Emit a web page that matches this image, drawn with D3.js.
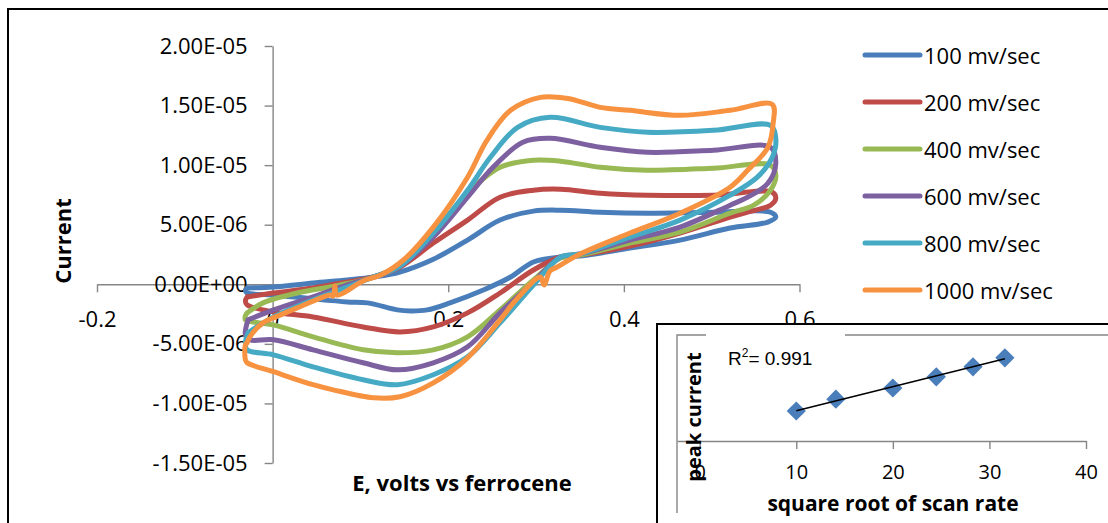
<!DOCTYPE html>
<html>
<head>
<meta charset="utf-8">
<script src="https://cdn.jsdelivr.net/npm/d3@7"></script>
<style>
  body { margin: 0; background: #fff; }
  svg { display: block; }
  text { font-family: "Open Sans", "Noto Sans", sans-serif; fill: #000; }
</style>
</head>
<body>
<svg id="chart" width="1108" height="523"></svg>
<script>
// ---- cyclic voltammograms: potential (V vs Fc) and current (µA) along each scan loop ----
const scanLabels = ["100 mv/sec", "200 mv/sec", "400 mv/sec", "600 mv/sec", "800 mv/sec", "1000 mv/sec"];
const seriesColors = ["#4A7EBB", "#BE4B48", "#98B954", "#7D60A0", "#46AAC5", "#F69240"];

const potential100 = [-0.029, 0.001, 0.046, 0.085, 0.115, 0.145, 0.183, 0.222, 0.259, 0.297, 0.328, 0.373, 0.427, 0.502, 0.567, 0.573, 0.564, 0.521, 0.464, 0.407, 0.350, 0.328, 0.297, 0.271, 0.240, 0.202, 0.176, 0.157, 0.142, 0.108, 0.085, 0.046, 0.001, -0.029, -0.031, -0.029];
const current100 = [-0.31, -0.23, 0.11, 0.36, 0.61, 1.03, 2.1, 3.71, 5.39, 6.14, 6.22, 6.05, 5.97, 6.05, 6.05, 5.64, 5.22, 4.72, 3.71, 3.04, 2.37, 2.29, 1.87, 0.61, -0.48, -1.56, -2.15, -2.24, -2.15, -1.56, -1.48, -1.23, -0.90, -0.73, -0.50, -0.31];

const potential200 = [-0.029, 0.001, 0.046, 0.085, 0.115, 0.145, 0.183, 0.222, 0.259, 0.297, 0.328, 0.373, 0.427, 0.502, 0.569, 0.573, 0.567, 0.541, 0.521, 0.464, 0.407, 0.350, 0.328, 0.297, 0.259, 0.222, 0.183, 0.145, 0.103, 0.046, 0.001, -0.029, -0.031, -0.029];
const current200 = [-1.06, -0.73, -0.31, 0.19, 0.61, 1.45, 3.46, 5.39, 7.31, 7.90, 7.98, 7.65, 7.48, 7.48, 7.73, 7.23, 6.64, 6.05, 5.64, 4.30, 3.21, 2.45, 2.29, 1.20, -0.73, -2.40, -3.58, -4.00, -3.58, -2.74, -2.32, -1.73, -1.40, -1.06];

const potential400 = [-0.029, -0.011, 0.028, 0.077, 0.115, 0.145, 0.183, 0.222, 0.259, 0.297, 0.328, 0.373, 0.427, 0.502, 0.567, 0.573, 0.567, 0.548, 0.521, 0.464, 0.407, 0.350, 0.328, 0.297, 0.259, 0.222, 0.183, 0.142, 0.103, 0.046, 0.001, -0.031, -0.031, -0.029];
const current400 = [-2.40, -1.56, -0.73, -0.06, 0.61, 1.62, 4.30, 7.65, 9.82, 10.41, 10.33, 9.82, 9.57, 9.74, 9.99, 9.15, 7.90, 6.64, 5.97, 4.38, 3.46, 2.45, 2.20, 0.36, -2.15, -4.41, -5.50, -5.75, -5.50, -4.41, -3.41, -2.99, -2.65, -2.40];

const potential600 = [-0.028, 0.001, 0.046, 0.085, 0.115, 0.145, 0.183, 0.222, 0.251, 0.285, 0.316, 0.373, 0.427, 0.502, 0.567, 0.573, 0.564, 0.541, 0.521, 0.464, 0.407, 0.350, 0.328, 0.297, 0.259, 0.222, 0.183, 0.142, 0.103, 0.046, 0.001, -0.026, -0.031, -0.028];
const current600 = [-2.99, -2.15, -1.06, -0.06, 0.61, 1.53, 3.96, 7.31, 9.82, 11.92, 12.25, 11.50, 11.08, 11.25, 11.50, 10.16, 8.48, 7.31, 6.64, 4.80, 3.71, 2.54, 2.29, 0.19, -2.40, -5.25, -6.59, -7.18, -6.59, -5.50, -4.66, -4.66, -4.24, -2.99];

const potential800 = [-0.028, -0.018, 0.001, 0.046, 0.085, 0.115, 0.145, 0.183, 0.222, 0.248, 0.279, 0.316, 0.373, 0.427, 0.502, 0.567, 0.573, 0.569, 0.552, 0.521, 0.464, 0.407, 0.350, 0.328, 0.297, 0.259, 0.222, 0.183, 0.142, 0.103, 0.046, 0.001, -0.029, -0.031, -0.028];
const current800 = [-4.08, -3.58, -2.74, -1.31, -0.23, 0.61, 1.53, 4.30, 7.90, 10.66, 13.17, 14.01, 13.17, 12.76, 12.92, 13.34, 12.25, 10.66, 8.99, 7.48, 5.39, 3.96, 2.54, 2.29, -0.06, -3.24, -6.09, -7.59, -8.43, -8.01, -6.93, -5.92, -5.50, -4.92, -4.08];

const potential1000 = [-0.029, -0.026, -0.011, 0.009, 0.028, 0.066, 0.069, 0.071, 0.073, 0.103, 0.123, 0.149, 0.183, 0.222, 0.244, 0.271, 0.305, 0.336, 0.373, 0.407, 0.464, 0.521, 0.569, 0.570, 0.564, 0.541, 0.521, 0.464, 0.407, 0.350, 0.324, 0.316, 0.309, 0.305, 0.279, 0.259, 0.222, 0.183, 0.145, 0.115, 0.069, 0.046, 0.001, -0.029, -0.031, -0.031, -0.029];
const current1000 = [-4.92, -4.41, -3.24, -2.57, -1.98, -0.90, -0.98, -0.14, -0.90, 0.28, 0.78, 2.04, 4.80, 8.99, 12.08, 14.60, 15.69, 15.60, 14.85, 14.60, 14.18, 14.60, 15.10, 13.51, 11.50, 9.57, 8.15, 5.97, 4.30, 2.54, 1.45, 1.12, -0.06, 0.61, -1.15, -2.99, -6.17, -8.27, -9.44, -9.53, -8.86, -8.43, -7.34, -6.59, -6.34, -5.08, -4.92];

// axis ticks of the main plot (current ticks in µA, labelled in amperes)
const xTickValues = [-0.2, 0, 0.2, 0.4, 0.6];
const xTickLabels = ["-0.2", "0", "0.2", "0.4", "0.6"];
const yTickValues = [-15, -10, -5, 0, 5, 10, 15, 20];
const yTickLabels = ["-1.50E-05", "-1.00E-05", "-5.00E-06", "0.00E+00", "5.00E-06", "1.00E-05", "1.50E-05", "2.00E-05"];

// ---- inset: anodic peak current vs square root of scan rate ----
const sqrtScanRate = [10, 14.1, 20, 24.5, 28.3, 31.6];
const peakCurrent = [5.66, 7.9, 10.0, 12.1, 14.0, 15.7];   // µA
const insetTickValues = [0, 10, 20, 30, 40];
const insetTickLabels = ["0", "10", "20", "30", "40"];
const rSquaredText = "0.991";

// -------------------------------------------------------------------------
const series = [
  [potential100, current100], [potential200, current200], [potential400, current400],
  [potential600, current600], [potential800, current800], [potential1000, current1000]
].map(([e, i], k) => ({ label: scanLabels[k], color: seriesColors[k], pts: e.map((v, j) => [v, i[j]]) }));

const svg = d3.select("#chart");
const axisGrey = "#868686";

svg.append("rect").attr("width", 1108).attr("height", 523).attr("fill", "#fff");
// chart frame (runs past the right and bottom edges)
svg.append("rect").attr("x", 8).attr("y", 9).attr("width", 1200).attr("height", 600)
  .attr("fill", "#fff").attr("stroke", "#000").attr("stroke-width", 2);

const x = d3.scaleLinear().domain([-0.2, 0.6]).range([97, 799.5]);
const y = d3.scaleLinear().domain([-15, 20]).range([463, 46]);

function styleAxis(size) {
  return g => {
    g.select(".domain").attr("stroke", axisGrey).attr("stroke-width", 1.4);
    g.selectAll(".tick line").attr("stroke", axisGrey).attr("stroke-width", 1.4);
    g.selectAll(".tick text").style("font-size", size + "px").attr("fill", "#000");
  };
}

// x axis through zero current
svg.append("g")
  .attr("transform", `translate(0,${y(0)})`)
  .call(d3.axisBottom(x).tickValues(xTickValues).tickSize(8).tickSizeOuter(0).tickPadding(19)
    .tickFormat((d, i) => xTickLabels[i]))
  .call(styleAxis(22));

// y axis through zero potential
svg.append("g")
  .attr("transform", `translate(${x(0)},0)`)
  .call(d3.axisLeft(y).tickValues(yTickValues).tickSize(8).tickSizeOuter(0).tickPadding(17)
    .tickFormat((d, i) => yTickLabels[i]))
  .call(styleAxis(22));

// axis titles
svg.append("text").attr("x", 462).attr("y", 482).attr("text-anchor", "middle")
  .attr("dominant-baseline", "central").style("font-size", "22px").style("font-weight", "bold")
  .text("E, volts vs ferrocene");
svg.append("text").attr("transform", "translate(62,241) rotate(-90)").attr("text-anchor", "middle")
  .attr("dominant-baseline", "central").style("font-size", "22px").style("font-weight", "bold")
  .text("Current");

// voltammogram loops
const line = d3.line().x(d => x(d[0])).y(d => y(d[1])).curve(d3.curveCatmullRom.alpha(0.5));
svg.append("g").selectAll("path").data(series).join("path")
  .attr("d", d => line(d.pts))
  .attr("fill", "none")
  .attr("stroke", d => d.color)
  .attr("stroke-width", 5)
  .attr("stroke-linejoin", "round")
  .attr("stroke-linecap", "round");

// legend
const legend = svg.append("g").selectAll("g").data(series).join("g")
  .attr("transform", (d, i) => `translate(865,${55 + i * 47})`);
legend.append("line").attr("x1", 0).attr("x2", 55).attr("stroke", d => d.color)
  .attr("stroke-width", 5).attr("stroke-linecap", "round");
legend.append("text").attr("x", 59).attr("dominant-baseline", "central")
  .style("font-size", "22px").text(d => d.label);

// ---- inset chart ----
const inset = svg.append("g");
inset.append("rect").attr("x", 657).attr("y", 324).attr("width", 500).attr("height", 250)
  .attr("fill", "#fff").attr("stroke", "#000").attr("stroke-width", 2);

const xs = d3.scaleLinear().domain([-2.35, 40]).range([677, 1086]);
const ys = d3.scaleLinear().domain([0, 20]).range([441, 335]);

// plot-area border (left and top)
inset.append("path").attr("d", `M${xs(-2.35)},513V${ys(20)}H1110`)
  .attr("fill", "none").attr("stroke", axisGrey).attr("stroke-width", 1.4);

inset.append("g")
  .attr("transform", `translate(0,${ys(0)})`)
  .call(d3.axisBottom(xs).tickValues(insetTickValues).tickSize(8).tickSizeOuter(0).tickPadding(16)
    .tickFormat((d, i) => insetTickLabels[i]))
  .call(styleAxis(20));

// markers
inset.append("g").selectAll("path").data(sqrtScanRate).join("path")
  .attr("d", d3.symbol(d3.symbolSquare, 185))
  .attr("transform", (d, i) => `translate(${xs(d)},${ys(peakCurrent[i])}) rotate(45)`)
  .attr("fill", "#4A7EBB");

// least-squares trend line
const mx = d3.mean(sqrtScanRate), my = d3.mean(peakCurrent);
const slope = d3.sum(sqrtScanRate, (v, i) => (v - mx) * (peakCurrent[i] - my)) /
              d3.sum(sqrtScanRate, v => (v - mx) * (v - mx));
const icpt = my - slope * mx;
const [x0, x1] = d3.extent(sqrtScanRate);
inset.append("line")
  .attr("x1", xs(x0)).attr("y1", ys(icpt + slope * x0))
  .attr("x2", xs(x1)).attr("y2", ys(icpt + slope * x1))
  .attr("stroke", "#000").attr("stroke-width", 1.6);

// R² text box
inset.append("rect").attr("x", 706).attr("y", 328).attr("width", 139).attr("height", 16).attr("fill", "#fff");
const r2 = inset.append("text").attr("x", 728).attr("y", 365)
  .style("font-family", "'Liberation Sans', Arial, sans-serif").style("font-size", "19px");
r2.append("tspan").text("R");
r2.append("tspan").attr("dy", -8).style("font-size", "12px").text("2");
r2.append("tspan").attr("dy", 8).text("= " + rSquaredText);

// inset axis titles
inset.append("text").attr("x", 893).attr("y", 503).attr("text-anchor", "middle")
  .attr("dominant-baseline", "central").style("font-size", "21px").style("font-weight", "bold")
  .text("square root of scan rate");
inset.append("text").attr("transform", "translate(693,417) rotate(-90)").attr("text-anchor", "middle")
  .attr("dominant-baseline", "central").style("font-size", "20px").style("font-weight", "bold")
  .text("peak current");
</script>
</body>
</html>
